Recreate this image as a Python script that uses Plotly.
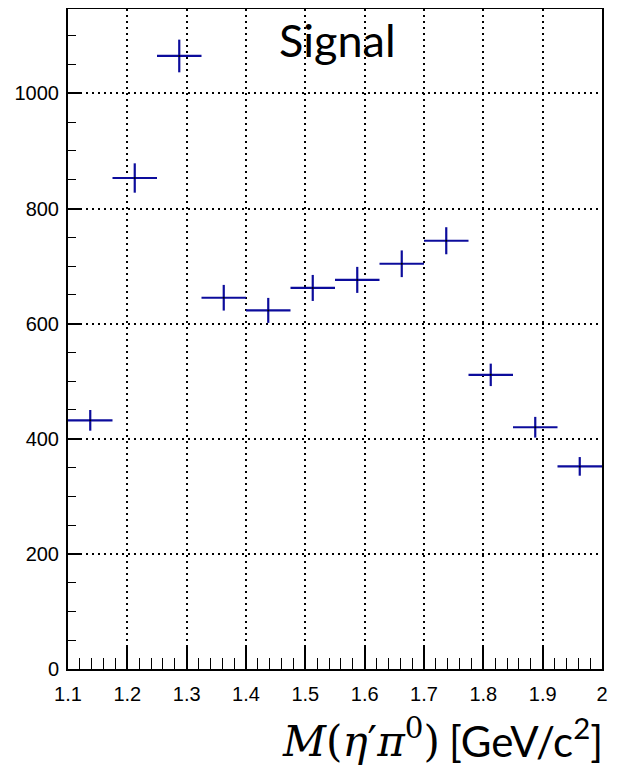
import plotly.graph_objects as go

# Data
bin_centers = [1.1375, 1.2125, 1.2875, 1.3625, 1.4375, 1.5125,
               1.5875, 1.6625, 1.7375, 1.8125, 1.8875, 1.9625]
bin_halfwidth = [0.0375] * 12
counts = [432, 853, 1065, 645, 623, 662, 676, 704, 744, 511, 420, 352]
count_errors = [18, 25.5, 28.4, 22.3, 21.7, 22.6, 22.6, 23.2, 23.5, 19.5, 18, 16.2]

x_ticks = [1.1, 1.2, 1.3, 1.4, 1.5, 1.6, 1.7, 1.8, 1.9, 2.0]
x_tick_labels = ["1.1", "1.2", "1.3", "1.4", "1.5", "1.6", "1.7", "1.8", "1.9", "2"]
y_ticks = [0, 200, 400, 600, 800, 1000]
y_tick_labels = ["0", "200", "400", "600", "800", "1000"]

BLUE = "#0c0c9c"
DOT = "2px,4px"

# The page body adds an 8px margin, so the figure is 8px smaller and shifted.
OFF = 8
W, H = 620 - OFF, 774 - OFF
PL, PR, PT, PB = 68, 602, 9, 669  # plot area in page pixels


def px_x(px):
    return (px - PL) / (PR - PL)


def px_y(py):
    return (PB - py) / (PB - PT)


fig = go.Figure()
fig.add_trace(go.Scatter(
    x=bin_centers, y=counts, mode="markers",
    marker=dict(size=2, color="black"),
    error_x=dict(type="data", array=bin_halfwidth, color=BLUE, thickness=2.2, width=0),
    error_y=dict(type="data", array=count_errors, color=BLUE, thickness=2.2, width=0),
    showlegend=False, hoverinfo="skip",
))

tick_font = dict(family="Liberation Sans, Arial, sans-serif", size=20, color="black")

fig.update_layout(
    width=W, height=H,
    margin=dict(l=PL - OFF, r=W - (PR - OFF), t=PT - OFF, b=H - (PB - OFF), autoexpand=False),
    paper_bgcolor="white", plot_bgcolor="white",
    xaxis=dict(
        range=[1.1, 2.0], tickvals=x_ticks, ticktext=x_tick_labels,
        ticks="inside", ticklen=22, tickwidth=1.6, tickcolor="black",
        showline=True, linewidth=2, linecolor="black", mirror=True,
        showgrid=True, gridcolor="black", gridwidth=2, griddash=DOT,
        zeroline=False, tickfont=tick_font, ticklabelstandoff=6,
        minor=dict(ticks="inside", dtick=0.02, tick0=1.1, ticklen=11,
                   tickwidth=1.4, tickcolor="black", showgrid=False),
    ),
    yaxis=dict(
        range=[0, (668.3 - PT) / 0.575], tickvals=y_ticks, ticktext=y_tick_labels,
        ticks="inside", ticklen=13, tickwidth=1.6, tickcolor="black",
        showline=True, linewidth=2, linecolor="black", mirror=True,
        showgrid=True, gridcolor="black", gridwidth=2, griddash=DOT,
        zeroline=False, tickfont=tick_font, ticklabelstandoff=3,
        minor=dict(ticks="inside", dtick=50, tick0=0, ticklen=8,
                   tickwidth=1.4, tickcolor="black", showgrid=False),
    ),
)

fig.add_annotation(
    text="Signal", xref="paper", yref="paper", x=px_x(337), y=px_y(40),
    xanchor="center", yanchor="middle", showarrow=False,
    font=dict(family="Lato, Open Sans, sans-serif", size=45, color="black"),
)
fig.add_annotation(
    text="<i>M</i>(<i>η</i>′<i>π</i><sup>0</sup>)", xref="paper", yref="paper",
    x=px_x(442), y=px_y(738),
    xanchor="right", yanchor="middle", showarrow=False,
    font=dict(family="DejaVu Serif, serif", size=42, color="black"),
)
fig.add_annotation(
    text="[GeV/c<sup>2</sup>]", xref="paper", yref="paper",
    x=px_x(447), y=px_y(738),
    xanchor="left", yanchor="middle", showarrow=False,
    font=dict(family="Lato, Open Sans, sans-serif", size=42, color="black"),
)

fig.write_html("out.html")
